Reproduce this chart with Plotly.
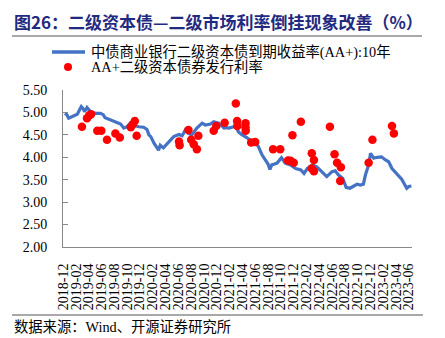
import pandas as pd
import plotly.graph_objects as go

# 中债商业银行二级资本债到期收益率(AA+):10年
yield_dates = [
    "2018-12-10", "2018-12-19", "2018-12-28", "2019-01-10", "2019-01-22", "2019-02-07",
    "2019-02-18", "2019-02-26", "2019-03-07", "2019-03-13", "2019-03-25", "2019-04-10",
    "2019-04-22", "2019-05-04", "2019-05-28", "2019-06-10", "2019-06-19", "2019-07-01",
    "2019-07-13", "2019-08-07", "2019-08-19", "2019-09-01", "2019-09-16", "2019-10-01",
    "2019-10-16", "2019-11-01", "2019-11-25", "2019-12-19", "2020-01-04", "2020-01-13",
    "2020-01-22", "2020-02-07", "2020-02-28", "2020-03-07", "2020-03-22", "2020-04-04",
    "2020-04-16", "2020-05-10", "2020-06-04", "2020-06-19", "2020-07-04", "2020-07-19",
    "2020-08-04", "2020-08-28", "2020-09-22", "2020-10-07", "2020-11-01", "2020-11-16",
    "2020-12-10", "2021-01-04", "2021-01-16", "2021-01-28", "2021-02-18", "2021-03-01",
    "2021-03-13", "2021-03-28", "2021-04-22", "2021-05-16", "2021-06-01", "2021-06-16",
    "2021-07-04", "2021-07-19", "2021-08-01", "2021-08-10", "2021-08-19", "2021-09-01",
    "2021-09-13", "2021-10-04", "2021-10-22", "2021-11-16", "2021-12-10", "2022-01-04",
    "2022-01-19", "2022-02-04", "2022-02-28", "2022-03-22", "2022-04-13", "2022-05-07",
    "2022-06-01", "2022-06-16", "2022-07-01", "2022-07-22", "2022-08-07", "2022-08-25",
    "2022-09-13", "2022-09-28", "2022-10-13", "2022-10-28", "2022-11-07", "2022-11-16",
    "2022-11-22", "2022-12-01", "2022-12-07", "2022-12-16", "2023-01-01", "2023-01-22",
    "2023-02-10", "2023-02-25", "2023-03-13", "2023-04-04", "2023-04-28", "2023-05-22",
    "2023-06-01", "2023-06-13",
]
yield_values = [
    4.98, 4.95, 4.87, 4.90, 4.92, 4.96,
    5.06, 5.13, 5.08, 5.02, 5.11, 5.02,
    5.00, 4.98, 4.98, 4.95, 4.88, 4.86,
    4.83, 4.79, 4.76, 4.74, 4.65, 4.68,
    4.76, 4.72, 4.68, 4.67, 4.62, 4.50,
    4.46, 4.31, 4.16, 4.27, 4.21, 4.28,
    4.35, 4.46, 4.51, 4.48, 4.61, 4.53,
    4.50, 4.65, 4.76, 4.72, 4.74, 4.79,
    4.76, 4.65, 4.66, 4.65, 4.68, 4.70,
    4.57, 4.51, 4.44, 4.35, 4.35, 4.24,
    4.05, 3.94, 3.85, 3.73, 3.83, 3.85,
    3.87, 3.99, 3.87, 3.83, 3.75, 3.72,
    3.64, 3.75, 3.83, 3.78, 3.68, 3.57,
    3.68, 3.70, 3.61, 3.53, 3.33, 3.31,
    3.36, 3.40, 3.38, 3.40, 3.61, 3.72,
    3.83, 4.09, 4.03, 3.98, 4.00, 4.01,
    3.94, 3.90, 3.75, 3.64, 3.51, 3.31,
    3.35, 3.36,
]

# AA+二级资本债券发行利率
issue_dates = [
    "2019-03-01", "2019-03-25", "2019-04-04", "2019-04-13", "2019-05-13", "2019-06-01",
    "2019-06-28", "2019-08-07", "2019-08-28", "2019-10-19", "2019-10-28", "2019-11-07",
    "2019-11-16", "2020-06-04", "2020-06-07", "2020-07-19", "2020-08-01", "2020-08-13",
    "2020-08-28", "2020-09-04", "2020-11-16", "2020-11-28", "2021-01-07", "2021-03-01",
    "2021-03-07", "2021-03-08", "2021-04-16", "2021-04-16", "2021-04-17", "2021-05-13",
    "2021-06-01", "2021-08-25", "2021-09-28", "2021-11-04", "2021-11-16", "2021-12-01",
    "2021-11-25", "2022-01-04", "2022-02-25", "2022-03-07", "2022-02-25", "2022-03-07",
    "2022-05-22", "2022-06-13", "2022-06-25", "2022-07-13", "2022-07-10", "2022-11-22",
    "2022-12-10", "2023-03-13", "2023-03-22",
]
issue_rates = [
    4.68, 4.87, 4.93, 4.96, 4.59, 4.59,
    4.39, 4.53, 4.44, 4.67, 4.73, 4.81,
    4.48, 4.35, 4.27, 4.61, 4.39, 4.29,
    4.18, 4.48, 4.59, 4.70, 4.77, 5.20,
    4.81, 4.70, 4.76, 4.67, 4.59, 4.33,
    4.34, 4.18, 4.18, 3.93, 3.92, 3.88,
    4.49, 4.79, 4.09, 3.94, 3.75, 3.69,
    4.68, 4.07, 3.88, 3.78, 3.47, 3.88,
    4.39, 4.70, 4.53,
]

# x-axis labels every two months
tick_dates = pd.date_range("2018-12-01", "2023-06-01", freq="2MS")
tick_labels = [d.strftime("%Y-%m") for d in tick_dates]

y_ticks = [2.00, 2.50, 3.00, 3.50, 4.00, 4.50, 5.00, 5.50]

W, H = 445, 338
L, R, T, B = 63, 33, 90, 91
PW, PH = W - L - R, H - T - B

SERIF = "'Liberation Serif', 'Times New Roman', 'Noto Sans CJK SC', serif"
CJK = "'Noto Sans CJK SC', sans-serif"
BLUE = "#4472C4"
RED = "#FF0000"

fig = go.Figure()
fig.add_trace(go.Scatter(
    x=pd.to_datetime(yield_dates), y=yield_values, mode="lines",
    line=dict(color=BLUE, width=3.2), name="中债商业银行二级资本债到期收益率(AA+):10年",
    showlegend=False,
))
fig.add_trace(go.Scatter(
    x=pd.to_datetime(issue_dates), y=issue_rates, mode="markers",
    marker=dict(color=RED, size=8.5, line=dict(width=0)), name="AA+二级资本债券发行利率",
    showlegend=False,
))

fig.update_layout(
    width=W, height=H,
    margin=dict(l=L, r=R, t=T, b=B),
    paper_bgcolor="white", plot_bgcolor="white",
    showlegend=False,
    xaxis=dict(
        type="date",
        range=["2018-12-01", "2023-06-16"],
        tickvals=tick_dates, ticktext=tick_labels,
        tickangle=-90,
        tickfont=dict(family=SERIF, size=14, color="#000000"),
        showgrid=False, zeroline=False,
        showline=True, linecolor="#888888", linewidth=1,
        ticks="", ticklabelstandoff=10,
    ),
    yaxis=dict(
        range=[2.0, 5.5],
        tickvals=y_ticks, tickformat=".2f",
        tickfont=dict(family=SERIF, size=14, color="#000000"),
        showgrid=False, zeroline=False,
        showline=True, linecolor="#888888", linewidth=1,
        ticks="inside", ticklen=5, tickcolor="#888888",
        ticklabelstandoff=12,
    ),
)


# convert figure pixel positions to paper (plot-area) fractions
def px_x(v):
    return (v - L) / PW


def px_y(v):
    return (H - B - v) / PH


# title and rule beneath it
fig.add_annotation(
    xref="paper", yref="paper", x=px_x(12), y=px_y(21),
    xanchor="left", yanchor="middle", showarrow=False,
    text="<b>图26：二级资本债—二级市场利率倒挂现象改善（%）</b>",
    font=dict(family=CJK, size=17, color="#1F2A80"),
)
fig.add_shape(type="line", xref="paper", yref="paper",
              x0=px_x(12), x1=px_x(422), y0=px_y(36), y1=px_y(36),
              line=dict(color="#8C8C8C", width=1.5))

# legend
fig.add_shape(type="line", xref="paper", yref="paper",
              x0=px_x(52), x1=px_x(85), y0=px_y(52), y1=px_y(52),
              line=dict(color=BLUE, width=3.5))
fig.add_annotation(
    xref="paper", yref="paper", x=px_x(89), y=px_y(52),
    xanchor="left", yanchor="middle", showarrow=False,
    text="中债商业银行二级资本债到期收益率(AA+):10年",
    font=dict(family=SERIF, size=14.3, color="#000000"),
)
fig.add_shape(type="circle", xref="paper", yref="paper",
              x0=px_x(64), x1=px_x(72), y0=px_y(71), y1=px_y(63),
              fillcolor=RED, line=dict(width=0))
fig.add_annotation(
    xref="paper", yref="paper", x=px_x(89), y=px_y(67),
    xanchor="left", yanchor="middle", showarrow=False,
    text="AA+二级资本债券发行利率",
    font=dict(family=SERIF, size=14.3, color="#000000"),
)

# source line
fig.add_shape(type="line", xref="paper", yref="paper",
              x0=px_x(12), x1=px_x(423), y0=px_y(315), y1=px_y(315),
              line=dict(color="#8C8C8C", width=1.5))
fig.add_annotation(
    xref="paper", yref="paper", x=px_x(12), y=px_y(327),
    xanchor="left", yanchor="middle", showarrow=False,
    text="数据来源：Wind、开源证券研究所",
    font=dict(family=SERIF, size=14.3, color="#000000"),
)

fig.write_html("out.html")
